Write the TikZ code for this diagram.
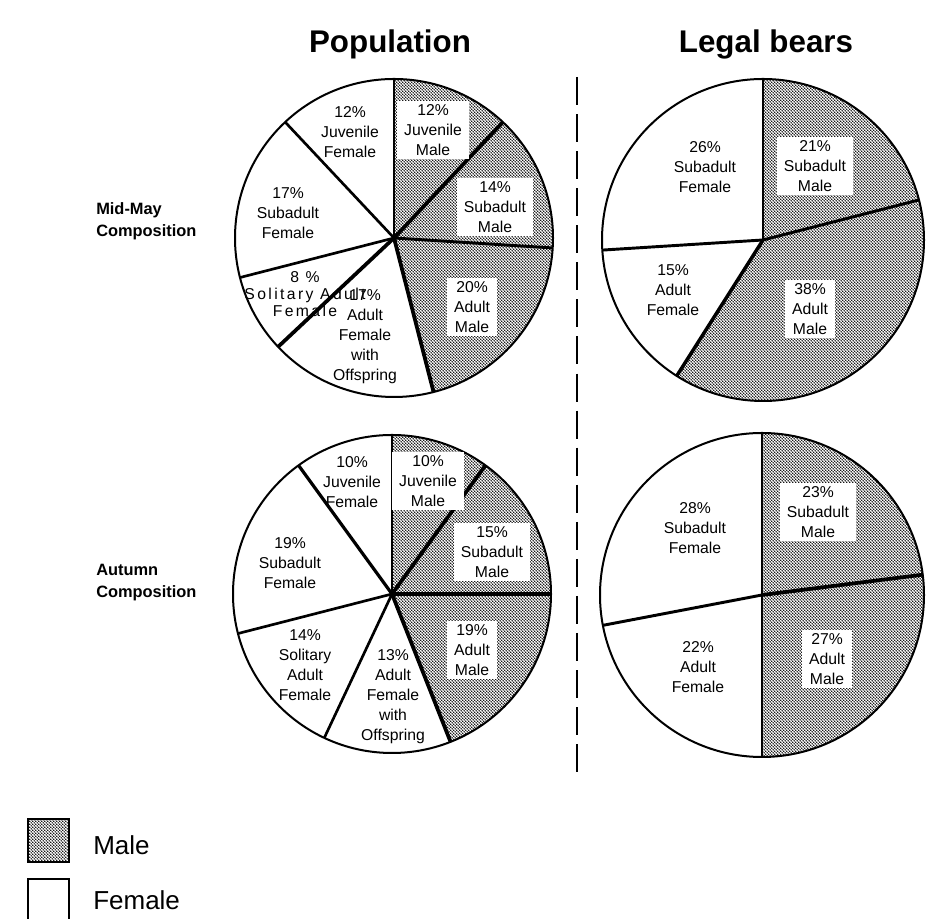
\documentclass[tikz,border=0pt]{standalone}
\usepackage{fontspec}
\setmainfont{Liberation Sans}
\usetikzlibrary{patterns}

% stippled fill for the male slices
\pgfdeclarepatternformonly{stipple}{\pgfqpoint{0pt}{0pt}}{\pgfqpoint{2.2pt}{2.2pt}}{\pgfqpoint{2.2pt}{2.2pt}}{%
  \pgfpathcircle{\pgfqpoint{0.55pt}{0.55pt}}{0.6pt}%
  \pgfpathcircle{\pgfqpoint{1.65pt}{1.65pt}}{0.6pt}%
  \pgfusepath{fill}}

\tikzset{
  maleslice/.style={pattern=stipple, pattern color=black},
  femaleslice/.style={fill=white},
  rim/.style={line width=1.5pt},
  slicelbl/.style={font=\fontsize{11.8}{15}\selectfont, align=center, inner sep=0pt},
  malelbl/.style={slicelbl, fill=white, inner xsep=5pt, inner ysep=2.5pt},
  header/.style={font=\fontsize{23.5}{28}\selectfont\bfseries},
  rowlbl/.style={font=\fontsize{12.3}{16.5}\selectfont\bfseries, align=left, anchor=west, inner sep=0pt},
  keylbl/.style={font=\fontsize{19.5}{22}\selectfont, anchor=base west, inner sep=0pt},
  keybox/.style={draw, line width=1.5pt, inner sep=0pt}
}

\begin{document}
\begin{tikzpicture}[x=0.75pt, y=0.75pt]
        % Page
        \fill[white] (0,0) rectangle (935,919);
        \useasboundingbox (0,0) rectangle (935,919);

        % Column headers
        \node[header, anchor=base] (pophead) at (390,866) {Population};
        \node[header, anchor=base] (legalhead) at (766,866) {Legal bears};

        % Row labels
        \node[rowlbl] (mayrow) at (96,698) {Mid-May\\Composition};
        \node[rowlbl] (autrow) at (96,336) {Autumn\\Composition};

        % Divider
        \coordinate (divtop) at (577,842);
        \coordinate (divbot) at (577,146);
        \draw[line width=2.2pt, dash pattern=on 21pt off 6.8pt] (divtop) -- (divbot);

        % Mid-May population
        \begin{scope}[shift={(394,681)}]
          \foreach \a/\b/\s in {90/46.8/maleslice, 46.8/-3.6/maleslice, -3.6/-75.6/maleslice, -75.6/-136.8/femaleslice,
              -136.8/-165.6/femaleslice, -165.6/-226.8/femaleslice, -226.8/-270/femaleslice}
            \fill[\s] (0,0) -- (\a:159) arc[start angle=\a, end angle=\b, radius=159] -- cycle;
          \foreach \a/\w in {90/1.4, 46.8/2.8, -3.6/2.2, -75.6/2.8, -136.8/2.8, -165.6/2, 133.2/2}
            \draw[line width=\w pt] (0,0) -- (\a:159);
          \draw[rim] (0,0) circle[radius=159];
        \end{scope}
        \node[slicelbl] (mayjf) at (350,787) {12\%\\Juvenile\\Female};
        \node[malelbl] (mayjm) at (433,789) {12\%\\Juvenile\\Male};
        \node[malelbl] (maysm) at (495,712) {14\%\\Subadult\\Male};
        \node[malelbl] (mayam) at (472,612) {20\%\\Adult\\Male};
        \node[slicelbl] (mayafo) at (365,582) {17\%\\Adult\\Female\\with\\Offspring};
        \node[slicelbl, font=\fontsize{11.8}{12.5}\selectfont\addfontfeatures{LetterSpace=15}] (maysaf) at (305,625) {8 \%\\Solitary Adult\\Female};
        \node[slicelbl] (maysf) at (288,706) {17\%\\Subadult\\Female};

        % Mid-May legal bears
        \begin{scope}[shift={(763,679)}]
          \foreach \a/\b/\s in {90/14.4/maleslice, 14.4/-122.4/maleslice, -122.4/-176.4/femaleslice, -176.4/-270/femaleslice}
            \fill[\s] (0,0) -- (\a:161) arc[start angle=\a, end angle=\b, radius=161] -- cycle;
          \foreach \a/\w in {90/2, 14.4/2.2, -122.4/2.6, -176.4/2.2}
            \draw[line width=\w pt] (0,0) -- (\a:161);
          \draw[rim] (0,0) circle[radius=161];
        \end{scope}
        \node[slicelbl] (legmaysf) at (705,752) {26\%\\Subadult\\Female};
        \node[malelbl] (legmaysm) at (815,753) {21\%\\Subadult\\Male};
        \node[slicelbl] (legmayaf) at (673,629) {15\%\\Adult\\Female};
        \node[malelbl] (legmayam) at (810,610) {38\%\\Adult\\Male};

        % Autumn population
        \begin{scope}[shift={(392,325)}]
          \foreach \a/\b/\s in {90/54/maleslice, 54/0/maleslice, 0/-68.4/maleslice, -68.4/-115.2/femaleslice,
              -115.2/-165.6/femaleslice, -165.6/-234/femaleslice, -234/-270/femaleslice}
            \fill[\s] (0,0) -- (\a:159) arc[start angle=\a, end angle=\b, radius=159] -- cycle;
          \foreach \a/\w in {90/1.4, 54/2.8, 0/2.4, -68.4/2.8, -115.2/2, -165.6/2, 126/2.4}
            \draw[line width=\w pt] (0,0) -- (\a:159);
          \draw[rim] (0,0) circle[radius=159];
        \end{scope}
        \node[slicelbl] (autjf) at (352,437) {10\%\\Juvenile\\Female};
        \node[malelbl] (autjm) at (428,438) {10\%\\Juvenile\\Male};
        \node[malelbl] (autsm) at (492,367) {15\%\\Subadult\\Male};
        \node[malelbl] (autam) at (472,269) {19\%\\Adult\\Male};
        \node[slicelbl] (autafo) at (393,222) {13\%\\Adult\\Female\\with\\Offspring};
        \node[slicelbl] (autsaf) at (305,254) {14\%\\Solitary\\Adult\\Female};
        \node[slicelbl] (autsf) at (290,356) {19\%\\Subadult\\Female};

        % Autumn legal bears
        \begin{scope}[shift={(762,324)}]
          \foreach \a/\b/\s in {90/7.2/maleslice, 7.2/-90/maleslice, -90/-169.2/femaleslice, -169.2/-270/femaleslice}
            \fill[\s] (0,0) -- (\a:162) arc[start angle=\a, end angle=\b, radius=162] -- cycle;
          \foreach \a/\w in {90/2, 7.2/2.8, -90/2, -169.2/2.2}
            \draw[line width=\w pt] (0,0) -- (\a:162);
          \draw[rim] (0,0) circle[radius=162];
        \end{scope}
        \node[slicelbl] (legautsf) at (695,391) {28\%\\Subadult\\Female};
        \node[malelbl] (legautsm) at (818,407) {23\%\\Subadult\\Male};
        \node[slicelbl] (legautaf) at (698,252) {22\%\\Adult\\Female};
        \node[malelbl] (legautam) at (827,260) {27\%\\Adult\\Male};

        % Key
        \node[keybox, maleslice, minimum width=30.75pt, minimum height=32.25pt] (malekey) at (48.5,78.5) {};
        \node[keybox, femaleslice, minimum width=30.75pt, minimum height=31.5pt] (femalekey) at (48.5,19) {};
        \node[keylbl] (maletext) at (93,64) {Male};
        \node[keylbl] (femaletext) at (93,9) {Female};
\end{tikzpicture}
\end{document}
